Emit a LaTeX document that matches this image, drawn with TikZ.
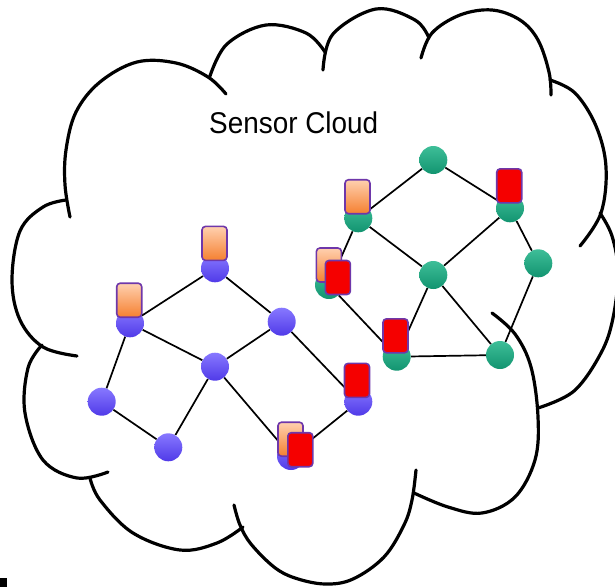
\documentclass[tikz,border=0pt]{standalone}
\usepackage{fontspec}
\setmainfont{Liberation Sans}
\usetikzlibrary{backgrounds}
\definecolor{pTop}{RGB}{135,120,255}
\definecolor{pBot}{RGB}{80,58,232}
\definecolor{gTop}{RGB}{62,190,152}
\definecolor{gBot}{RGB}{18,148,112}
\definecolor{oTop}{RGB}{255,208,175}
\definecolor{oBot}{RGB}{245,128,48}
\definecolor{sqBorder}{RGB}{110,55,170}
\definecolor{rFill}{RGB}{245,0,0}
\pgfdeclarelayer{edges}
\pgfsetlayers{background,edges,main}
\tikzset{
  pnode/.style={circle, minimum size=28, inner sep=0, top color=pTop, bottom color=pBot},
  gnode/.style={circle, minimum size=28, inner sep=0, top color=gTop, bottom color=gBot},
  osq/.style={rectangle, rounded corners=3.5, minimum width=25, minimum height=34, inner sep=0,
              draw=sqBorder, line width=1.6, top color=oTop, bottom color=oBot},
  rsq/.style={rectangle, rounded corners=3.5, minimum width=25, minimum height=34, inner sep=0,
              draw=sqBorder, line width=1.6, fill=rFill},
  link/.style={line width=1.7, black},
  cloudline/.style={line width=3.2, line cap=round, black},
}
\begin{document}
\begin{tikzpicture}[x=1pt, y=-1pt]
\useasboundingbox (0,0) rectangle (615,587);

% cloud outline
\begin{scope}[cloudline]
\draw plot[smooth, tension=0.6] coordinates {(70,217) (65,185) (66,150) (76,112) (100,82) (137,62) (176,63) (208,77) (226,94)};
\draw plot[smooth, tension=0.6] coordinates {(210,76) (227,44) (266,25) (306,33) (325,52)};
\draw plot[smooth, tension=0.6] coordinates {(323,70) (333,34) (376,9) (415,20) (429,38)};
\draw plot[smooth, tension=0.6] coordinates {(421,58) (432,33) (460,15) (492,10) (520,20) (538,40) (549,72) (551,95)};
\draw plot[smooth, tension=0.6] coordinates {(550,80) (575,93) (596,126) (606,167) (601,213) (580,246)};
\draw plot[smooth, tension=0.6] coordinates {(600,213) (612,236) (618,272) (613,318) (601,353) (574,391) (538,408)};
\draw plot[smooth, tension=0.6] coordinates {(492,313) (515,334) (531,367) (538,417) (535,460) (515,497) (482,513) (448,507) (414,493)};
\draw plot[smooth, tension=0.6] coordinates {(416,470) (412,500) (404,525) (384,557) (353,579) (325,584) (295,578) (274,567) (251,544) (240,525) (234,505)};
\draw plot[smooth, tension=0.6] coordinates {(90,478) (100,500) (133,533) (180,550) (217,543) (243,527)};
\draw plot[smooth, tension=0.6] coordinates {(42,345) (28,368) (25,413) (43,460) (77,478) (108,472)};
\draw plot[smooth, tension=0.6] coordinates {(66,200) (43,207) (20,231) (12,280) (20,320) (43,347) (77,356)};
\end{scope}

\node[anchor=base] (title) at (293.7,133.3) {\scalebox{0.93}[1]{\fontsize{30}{36}\selectfont Sensor Cloud}};

% purple network
\node[pnode] (P1) at (215,268.3) {};
\node[pnode] (P2) at (130,323.3) {};
\node[pnode] (P3) at (281.7,321.7) {};
\node[pnode] (P4) at (215,366.7) {};
\node[pnode] (P5) at (101.7,401.7) {};
\node[pnode] (P6) at (168.3,447.3) {};
\node[pnode] (P7) at (291,456) {};
\node[pnode] (P8) at (358.3,401.7) {};

% green network
\node[gnode] (G1) at (433.3,160) {};
\node[gnode] (G2) at (358.3,218.3) {};
\node[gnode] (G3) at (510,208.3) {};
\node[gnode] (G4) at (433.3,275) {};
\node[gnode] (G5) at (538.3,263.3) {};
\node[gnode] (G6) at (329,285) {};
\node[gnode] (G7) at (396.7,356.7) {};
\node[gnode] (G8) at (500,355) {};

\begin{pgfonlayer}{edges}
\draw[link] (P2) -- (P1);
\draw[link] (P1) -- (P3);
\draw[link] (P2) -- (P4);
\draw[link] (P2) -- (P5);
\draw[link] (P3) -- (P4);
\draw[link] (P3) -- (P8);
\draw[link] (P4) -- (P6);
\draw[link] (P5) -- (P6);
\draw[link] (P4) -- (P7);
\draw[link] (P7) -- (P8);
\draw[link] (G2) -- (G1);
\draw[link] (G1) -- (G3);
\draw[link] (G2) -- (G4);
\draw[link] (G3) -- (G4);
\draw[link] (G3) -- (G5);
\draw[link] (G5) -- (G8);
\draw[link] (G4) -- (G7);
\draw[link] (G4) -- (G8);
\draw[link] (G7) -- (G8);
\draw[link] (G2) -- (G6);
\draw[link] (G6) -- (G7);
\end{pgfonlayer}

% sensor tags
\node[osq] (sP1) at (214.5,243.4) {};
\node[osq] (sP2) at (129.2,300.2) {};
\node[osq] (sG2) at (357.5,196.7) {};
\node[rsq] (sG3) at (509.2,185.8) {};
\node[rsq] (sP8) at (357,380.4) {};
\node[rsq] (sG7) at (395.5,335.8) {};
\node[osq] (sG6o) at (328.9,265) {};
\node[rsq] (sG6r) at (337.9,277.5) {};
\node[osq] (sP7o) at (290.5,439.2) {};
\node[rsq] (sP7r) at (300.3,449.7) {};

% corner mark
\fill[black] (0,578) rectangle (7,587);
\end{tikzpicture}
\end{document}
